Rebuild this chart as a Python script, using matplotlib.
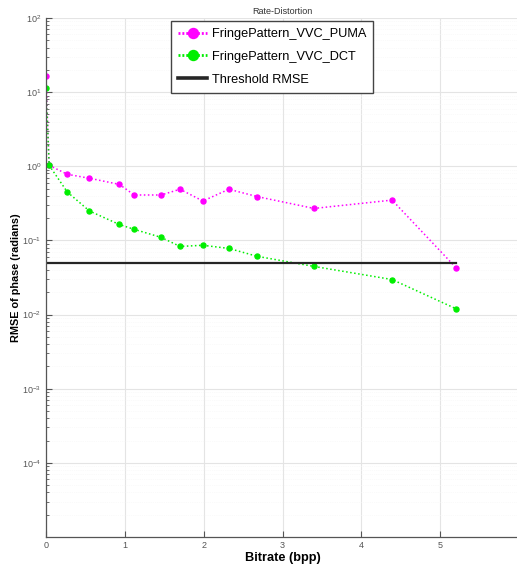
import numpy as np
import matplotlib
matplotlib.use('Agg')
import matplotlib.pyplot as plt
from matplotlib.ticker import LogLocator, NullFormatter, FixedLocator

plt.rcParams['font.family'] = ['Liberation Sans', 'DejaVu Sans']

# data
bitrate = [0.0, 0.04, 0.27, 0.55, 0.93, 1.12, 1.46, 1.70, 1.99, 2.32, 2.68, 3.40, 4.39, 5.20]
rmse_puma = [16.4, 1.03, 0.78, 0.69, 0.57, 0.41, 0.41, 0.49, 0.34, 0.49, 0.39, 0.27, 0.35, 0.043]
rmse_dct = [11.3, 1.03, 0.45, 0.25, 0.164, 0.141, 0.11, 0.083, 0.086, 0.078, 0.061, 0.0446, 0.0297, 0.012]
threshold = 0.05
ytick_vals = [1e-4, 1e-3, 1e-2, 1e-1, 1e0, 1e1, 1e2]

fig = plt.figure(figsize=(5.17, 5.64), dpi=100)
ax = fig.add_axes([46/517, 27/564, 473/517, 519/564])

ax.plot(bitrate, rmse_puma, ':', color='#ff00ff', lw=1.1, marker='o', ms=3.6,
        label='FringePattern_VVC_PUMA')
ax.plot(bitrate, rmse_dct, ':', color='#00ee00', lw=1.1, marker='o', ms=3.6,
        label='FringePattern_VVC_DCT')
ax.plot([0, max(bitrate)], [threshold, threshold], '-', color='#262626', lw=1.6,
        label='Threshold RMSE')

ax.set_yscale('log')
ax.set_ylim(1e-5, 1e2)
ax.set_xlim(0, 6)
ax.set_xticks(range(7))
ax.yaxis.set_major_locator(FixedLocator(ytick_vals))
ax.yaxis.set_minor_locator(LogLocator(base=10, subs=np.arange(2, 10), numticks=20))
ax.yaxis.set_minor_formatter(NullFormatter())

ax.grid(True, which='major', color='#e4e4e4', lw=0.8)
ax.grid(True, which='minor', axis='y', color='#f5f5f5', lw=0.5, ls=':')
ax.set_axisbelow(True)

for s in ['top', 'right']:
    ax.spines[s].set_visible(False)
for s in ['left', 'bottom']:
    ax.spines[s].set_color('#555555')
    ax.spines[s].set_linewidth(0.9)

ax.tick_params(which='both', direction='in', colors='#555555', labelsize=6.5)
ax.tick_params(which='major', length=4)
ax.tick_params(which='minor', length=2.5)
ax.tick_params(axis='x', pad=3)

ax.set_title('Rate-Distortion', fontsize=6.5, color='#333333', pad=3)
ax.set_xlabel('Bitrate (bpp)', fontsize=9.2, fontweight='bold', labelpad=1)
ax.set_ylabel('RMSE of phase (radians)', fontsize=7.8, fontweight='bold', labelpad=1)

leg = ax.legend(loc='upper left', bbox_to_anchor=(125/473, 1 - 3/519), fontsize=9.2,
                markerscale=2.0, handlelength=2.3, borderpad=0.55, labelspacing=0.85,
                handletextpad=0.35, borderaxespad=0, fancybox=False, framealpha=1)
leg.get_frame().set_edgecolor('#444444')
leg.get_frame().set_linewidth(1.0)
for h in leg.get_lines()[:2]:
    h.set_linewidth(2.0)
    h.set_dashes([0.7, 0.7])
leg.get_lines()[2].set_linewidth(2.6)

fig.savefig('out.png', dpi=100)
